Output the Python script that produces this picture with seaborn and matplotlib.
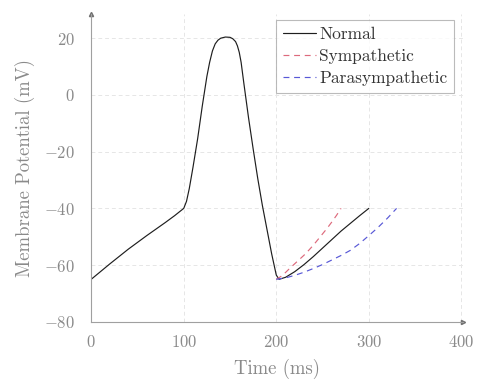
import matplotlib

matplotlib.use("Agg")

import matplotlib.pyplot as plt
import pandas as pd
import seaborn as sns

# Action potential traces
normal_t = [0, 10, 20, 30, 40, 50, 60, 70, 80, 90, 100,
            103, 106, 110, 115, 120, 125, 128, 131, 134, 137, 140, 145, 150, 153, 156, 158,
            160, 162, 165, 170, 175, 180, 185, 190, 195, 200, 203,
            210, 220, 230, 240, 250, 260, 270, 280, 290, 300]
normal_v = [-65, -62.3, -59.6, -57, -54.4, -52, -49.6, -47.3, -45, -42.6, -40,
            -37.5, -33, -25.5, -15.5, -4, 6.5, 11.5, 15.5, 18, 19.3, 20, 20.4, 20.3, 19.8, 18.8, 17.3,
            15, 11.5, 4, -8, -19, -29.5, -39, -47.5, -56, -63.5, -65,
            -64.3, -62.3, -59.8, -57, -54, -51, -48, -45.3, -42.6, -40]
symp_t = [200, 205, 210, 215, 220, 225, 230, 235, 240, 245, 250, 255, 260, 265, 270]
symp_v = [-65, -64, -62.6, -61, -59.5, -58, -56.5, -54.8, -53, -51, -49, -47, -44.8, -42.5, -40]
para_t = [200, 210, 220, 230, 240, 250, 260, 270, 280, 290, 300, 310, 320, 330]
para_v = [-65, -64.5, -63.6, -62.5, -61.2, -59.8, -58.2, -56.6, -54.8, -52.4, -49.6, -46.7, -43.5, -40]

x_ticks = [0, 100, 200, 300, 400]
y_ticks = [-80, -60, -40, -20, 0, 20]

sns.set_theme(style="white")
plt.rcParams["font.family"] = ["cmr10", "DejaVu Serif"]
plt.rcParams["mathtext.fontset"] = "cm"
plt.rcParams["axes.formatter.use_mathtext"] = True

gray = "#8a8a8a"
df = pd.concat([
    pd.DataFrame({"t": normal_t, "v": normal_v, "series": "Normal"}),
    pd.DataFrame({"t": symp_t, "v": symp_v, "series": "Sympathetic"}),
    pd.DataFrame({"t": para_t, "v": para_v, "series": "Parasympathetic"}),
])

fig = plt.figure(figsize=(4.8, 3.8), dpi=100)
ax = fig.add_axes([0.19, 0.153, 0.775, 0.81])

styles = {
    "Normal": dict(color="#1e1e1e", linestyle="-"),
    "Sympathetic": dict(color="#dd6a7c", linestyle=(0, (5, 4))),
    "Parasympathetic": dict(color="#5858d6", linestyle=(0, (5, 4))),
}
for name, kw in styles.items():
    sns.lineplot(data=df[df["series"] == name], x="t", y="v", ax=ax,
                 estimator=None, linewidth=0.85, label=name, **kw)

ax.set_xlim(0, 402)
ax.set_ylim(-80, 28.5)
ax.set_xticks(x_ticks)
ax.set_yticks(y_ticks)
ax.tick_params(length=0, labelsize=12, labelcolor=gray)
ax.tick_params(axis="y", pad=12)
ax.tick_params(axis="x", pad=9)
ax.grid(True, color="#e6e6e6", linestyle=(0, (4, 3)), linewidth=0.7)

for side in ["top", "right"]:
    ax.spines[side].set_visible(False)
for side in ["left", "bottom"]:
    ax.spines[side].set_color("#a0a0a0")
    ax.spines[side].set_linewidth(0.8)
ax.plot(1, 0, ">", color="#707070", ms=3, transform=ax.transAxes, clip_on=False)
ax.plot(0, 1, "^", color="#707070", ms=3, transform=ax.transAxes, clip_on=False)

ax.set_xlabel("Time (ms)", fontsize=13.5, color=gray, labelpad=6)
ax.set_ylabel("Membrane Potential (mV)", fontsize=13.5, color=gray, labelpad=6)

leg = ax.legend(loc="upper right", bbox_to_anchor=(0.976, 0.98), fontsize=12.5,
                frameon=True, fancybox=False, edgecolor="#aaaaaa",
                handlelength=1.9, handletextpad=0.2, borderpad=0.4,
                labelspacing=0.38, borderaxespad=0.0)
leg.get_frame().set_linewidth(0.8)
for txt in leg.get_texts():
    txt.set_color("#333333")

fig.savefig("out.png", dpi=100)
